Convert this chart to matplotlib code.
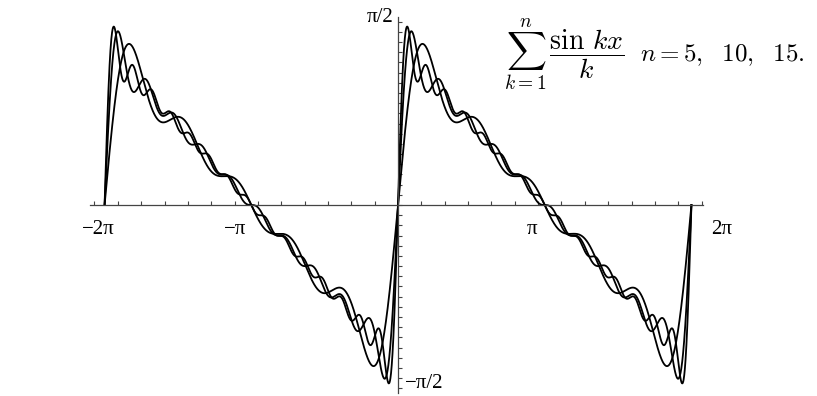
import numpy as np
import matplotlib
matplotlib.use("Agg")
import matplotlib.pyplot as plt

plt.rcParams['mathtext.fontset'] = 'cm'

# partial sums of sum_{k=1}^n sin(kx)/k, as stated in the chart's title
n_values = [5, 10, 15]
x_start, x_end = -2 * np.pi, 2 * np.pi

# hand placed axis labels (text, position)
x_labels = [("\u22122\u03c0", -6.41), ("\u2212\u03c0", -3.48), ("\u03c0", 2.86), ("2\u03c0", 6.94)]
y_labels = [("\u03c0/2", 1.84), ("\u2212\u03c0/2", -1.75)]

x = np.linspace(x_start, x_end, 4000)

fig = plt.figure(figsize=(8.17, 3.96), dpi=100)
ax = fig.add_axes([0, 0, 1, 1])

for n in n_values:
    k = np.arange(1, n + 1)
    y = (np.sin(np.outer(x, k)) / k).sum(axis=1)
    ax.plot(x, y, color='black', lw=1.3)

# pixel mapping: x0 at 398 px, 46.7 px/unit; y0 at 205 px, 101.8 px/unit
ax.set_xlim(-398 / 46.7, (817 - 398) / 46.7)
ax.set_ylim(-(396 - 205) / 101.8, 205 / 101.8)

for side in ['top', 'right']:
    ax.spines[side].set_visible(False)
ax.spines['bottom'].set_position('zero')
ax.spines['left'].set_position('zero')
ax.spines['bottom'].set_bounds(-6.6, 6.53)
ax.spines['left'].set_bounds(-1.85, 1.85)
for side in ['bottom', 'left']:
    ax.spines[side].set_color('#444444')
    ax.spines[side].set_linewidth(0.9)

ax.set_xticks(np.arange(-6.5, 6.51, 0.5))
ax.set_yticks(np.arange(-1.8, 1.81, 0.1))
ax.set_xticklabels([])
ax.set_yticklabels([])
ax.tick_params(direction='in', length=3, width=0.8, color='#444444')
ax.patch.set_visible(False)

for txt, xv in x_labels:
    ax.text(xv, -0.245, txt, ha='center', va='center', fontsize=15,
            family='Liberation Serif')
ax.text(-0.1, y_labels[0][1], y_labels[0][0], ha='right', va='center',
        fontsize=15, family='Liberation Serif')
ax.text(0.15, y_labels[1][1], y_labels[1][0], ha='left', va='center',
        fontsize=15, family='Liberation Serif')

ax.text(2.28, 1.47, r'$\sum_{k=1}^{n}\,\dfrac{\sin\,kx}{k}$', fontsize=20,
        ha='left', va='center')
ax.text(5.18, 1.47, r'$n=5,\ \ 10,\ \ 15.$', fontsize=18, ha='left', va='center')

fig.savefig('out.png', dpi=100)
